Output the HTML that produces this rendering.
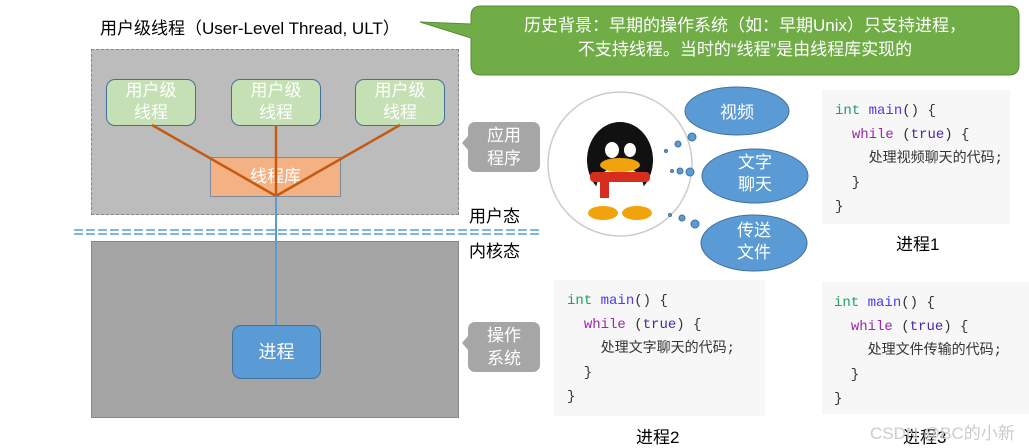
<!DOCTYPE html>
<html><head><meta charset="utf-8"><style>
body{margin:0;width:1029px;height:446px;background:#fff;position:relative;overflow:hidden;font-family:"Liberation Sans","Noto Sans CJK SC",sans-serif}
.a{position:absolute}
.ut{position:absolute;top:79px;width:88px;height:45px;background:#c5e0b4;border:1px solid #41719c;border-radius:9px;color:#fff;font-size:17px;line-height:22px;text-align:center}
.code{position:absolute;background:#f7f7f7;font-family:"Liberation Mono","Noto Sans CJK SC",monospace;font-size:14px;line-height:24px;color:#333;padding-top:9px;box-sizing:border-box}
.g{color:#22a062}.b{color:#4a3af0}.p{color:#9a2aa8}.t{color:#4a2aa0}
.lbl{position:absolute;font-size:17px;color:#000}
.gc{position:absolute;width:72px;height:50px;background:#a6a6a6;border-radius:7px;color:#fff;font-size:17px;line-height:23px;text-align:center;padding-top:2px;box-sizing:border-box}
</style></head><body>
<div class="a" style="left:91px;top:49px;width:368px;height:166px;background:#bcbcbc;border:1px dashed #888;box-sizing:border-box"></div>
<div class="a" style="left:91px;top:241px;width:368px;height:177px;background:#a5a5a5;border:1px solid #888;box-sizing:border-box"></div>
<div class="a" style="left:210px;top:157px;width:131px;height:40px;background:#f4b183;border:1px solid #7a8ca0;box-sizing:border-box;color:#fff;font-size:17px;text-align:center;line-height:38px">线程库</div>
<div class="ut" style="left:106px">用户级<br>线程</div>
<div class="ut" style="left:231px">用户级<br>线程</div>
<div class="ut" style="left:355px">用户级<br>线程</div>
<svg class="a" style="left:0;top:0" width="1029" height="446">
<g stroke="#c55a11" stroke-width="2.5"><line x1="152" y1="125" x2="276" y2="196"/><line x1="276" y1="125" x2="276" y2="196"/><line x1="400" y1="125" x2="276" y2="196"/></g>
<line x1="276" y1="196" x2="276" y2="325" stroke="#5b9bd5" stroke-width="2"/>
<g stroke="#5b9bd5" stroke-width="1.5" stroke-dasharray="9,3"><line x1="74" y1="230" x2="540" y2="230"/><line x1="74" y1="234" x2="540" y2="234"/></g>
<path d="M471,16 Q471,6 481,6 L1009,6 Q1019,6 1019,16 L1019,65 Q1019,75 1009,75 L481,75 Q471,75 471,65 L471,38 L420,22 L471,24 Z" fill="#70ad47" stroke="#5a8c3a"/>
<path d="M468,136 L462,143 L468,150 Z" fill="#a6a6a6"/>
<path d="M468,336 L462,343 L468,350 Z" fill="#a6a6a6"/>
<circle cx="620" cy="164" r="72" fill="#fff" stroke="#ccc" stroke-width="1.5"/>
<ellipse cx="620" cy="160" rx="33" ry="38" fill="#111"/>
<ellipse cx="620" cy="190" rx="24" ry="24" fill="#fff"/>
<ellipse cx="612" cy="150" rx="7" ry="8" fill="#fff"/><ellipse cx="630" cy="150" rx="6" ry="7" fill="#fff"/>
<ellipse cx="620" cy="165" rx="20" ry="7" fill="#f0a30a"/>
<rect x="590" y="172" width="60" height="10" rx="4" fill="#d62e1c"/><rect x="600" y="178" width="9" height="20" fill="#d62e1c"/>
<ellipse cx="603" cy="213" rx="15" ry="7" fill="#f0a30a"/><ellipse cx="637" cy="213" rx="15" ry="7" fill="#f0a30a"/>
<g fill="#5b9bd5" stroke="#41719c">
<ellipse cx="737" cy="111" rx="52" ry="24"/><ellipse cx="755" cy="176" rx="53" ry="27"/><ellipse cx="754" cy="243" rx="53" ry="28"/>
<circle cx="692" cy="137" r="4"/><circle cx="678" cy="144" r="3"/><circle cx="666" cy="151" r="1.5"/>
<circle cx="690" cy="172" r="4"/><circle cx="680" cy="171" r="3"/><circle cx="672" cy="171" r="1.5"/>
<circle cx="695" cy="224" r="4"/><circle cx="682" cy="218" r="3"/><circle cx="670" cy="215" r="1.5"/>
</g>
</svg>
<div class="a" style="left:232px;top:325px;width:89px;height:54px;background:#5b9bd5;border:1px solid #41719c;border-radius:9px;box-sizing:border-box;color:#fff;font-size:18px;text-align:center;line-height:52px">进程</div>
<div class="lbl" style="left:100px;top:14px">用户级线程（User-Level Thread, ULT）</div>
<div class="a" style="left:471px;top:14px;width:548px;text-align:center;color:#fff;font-size:17px;line-height:24px">历史背景：早期的操作系统（如：早期Unix）只支持进程，<br>不支持线程。当时的“线程”是由线程库实现的</div>
<div class="gc" style="left:468px;top:122px">应用<br>程序</div>
<div class="gc" style="left:468px;top:322px">操作<br>系统</div>
<div class="lbl" style="left:469px;top:202px">用户态</div>
<div class="lbl" style="left:469px;top:237px">内核态</div>
<div class="a" style="left:697px;top:98px;width:80px;text-align:center;color:#fff;font-size:17px">视频</div>
<div class="a" style="left:715px;top:152px;width:80px;text-align:center;color:#fff;font-size:17px;line-height:22px">文字<br>聊天</div>
<div class="a" style="left:714px;top:220px;width:80px;text-align:center;color:#fff;font-size:17px;line-height:22px">传送<br>文件</div>
<div class="code" style="left:822px;top:90px;width:188px;height:134px;padding-left:13px"><span class="g">int</span> <span class="b">main</span>() {<br>&nbsp;&nbsp;<span class="p">while</span> (<span class="t">true</span>) {<br>&nbsp;&nbsp;&nbsp;&nbsp;处理视频聊天的代码;<br>&nbsp;&nbsp;}<br>}</div>
<div class="code" style="left:554px;top:280px;width:211px;height:136px;padding-left:13px"><span class="g">int</span> <span class="b">main</span>() {<br>&nbsp;&nbsp;<span class="p">while</span> (<span class="t">true</span>) {<br>&nbsp;&nbsp;&nbsp;&nbsp;处理文字聊天的代码;<br>&nbsp;&nbsp;}<br>}</div>
<div class="code" style="left:822px;top:282px;width:207px;height:132px;padding-left:12px"><span class="g">int</span> <span class="b">main</span>() {<br>&nbsp;&nbsp;<span class="p">while</span> (<span class="t">true</span>) {<br>&nbsp;&nbsp;&nbsp;&nbsp;处理文件传输的代码;<br>&nbsp;&nbsp;}<br>}</div>
<div class="lbl" style="left:896px;top:230px">进程1</div>
<div class="lbl" style="left:636px;top:423px">进程2</div>
<div class="lbl" style="left:903px;top:423px">进程3</div>
<div class="a" style="left:870px;top:419px;font-size:17px;color:#ccc">CSDN @BC的小新</div>
</body></html>
